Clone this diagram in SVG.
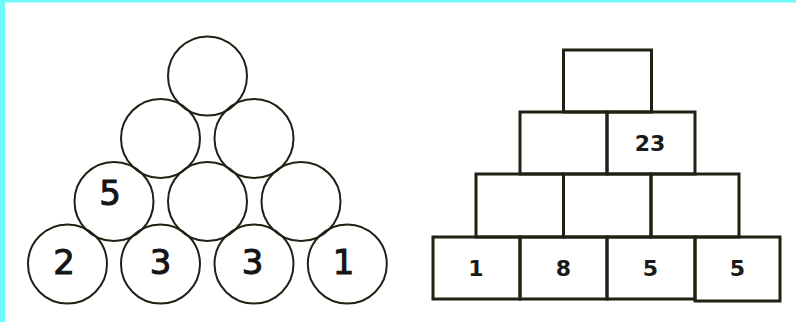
<svg xmlns="http://www.w3.org/2000/svg" width="796" height="322" viewBox="0 0 796 322">
<style>
.c{fill:none;stroke:#1e2212;stroke-width:2}
.b{fill:none;stroke:#1e2212;stroke-width:3}
.ct{font-family:"DejaVu Sans",sans-serif;font-size:34px;fill:#141414;stroke:#141414;stroke-width:1;text-anchor:middle}
.bt{font-family:"DejaVu Sans",sans-serif;font-weight:bold;font-size:22px;fill:#1a1a1a;text-anchor:middle}
</style>
<rect x="0" y="0" width="796" height="322" fill="#ffffff"/>
<rect x="0" y="0" width="796" height="2.5" fill="#6ef9f9"/>
<rect x="0" y="0" width="5" height="322" fill="#6ef9f9"/>
<g id="circles">
<g id="c1"><circle class="c" cx="207.5" cy="76" r="39.5"/></g>
<g id="c2"><circle class="c" cx="160.5" cy="138.5" r="39.5"/></g>
<g id="c3"><circle class="c" cx="254" cy="138.5" r="39.5"/></g>
<g id="c4"><circle class="c" cx="114" cy="201.5" r="39.5"/><text class="ct" x="110" y="205">5</text></g>
<g id="c5"><circle class="c" cx="207.5" cy="201.5" r="39.5"/></g>
<g id="c6"><circle class="c" cx="301" cy="201.5" r="39.5"/></g>
<g id="c7"><circle class="c" cx="67.5" cy="264" r="39.5"/><text class="ct" x="64" y="274">2</text></g>
<g id="c8"><circle class="c" cx="160.5" cy="264" r="39.5"/><text class="ct" x="160.5" y="274">3</text></g>
<g id="c9"><circle class="c" cx="254" cy="264" r="39.5"/><text class="ct" x="252.5" y="274">3</text></g>
<g id="c10"><circle class="c" cx="347.3" cy="264" r="39.5"/><text class="ct" x="343.5" y="274">1</text></g>
</g>
<g id="boxes">
<g id="b1"><rect class="b" x="563.5" y="50" width="88" height="62"/></g>
<g id="b2"><rect class="b" x="520" y="112" width="87" height="62"/></g>
<g id="b3"><rect class="b" x="607" y="112" width="88" height="62"/><text class="bt" x="650" y="151">23</text></g>
<g id="b4"><rect class="b" x="476" y="174" width="87.5" height="63"/></g>
<g id="b5"><rect class="b" x="563.5" y="174" width="87.5" height="63"/></g>
<g id="b6"><rect class="b" x="651" y="174" width="88" height="63"/></g>
<g id="b7"><rect class="b" x="433" y="237" width="87" height="62"/><text class="bt" x="476" y="276">1</text></g>
<g id="b8"><rect class="b" x="520" y="237" width="87" height="62"/><text class="bt" x="563.5" y="276">8</text></g>
<g id="b9"><rect class="b" x="607" y="237" width="88" height="62"/><text class="bt" x="650.5" y="276">5</text></g>
<g id="b10"><rect class="b" x="695" y="237" width="85" height="64"/><text class="bt" x="737.5" y="276">5</text></g>
</g>
<g id="connectors"/>
</svg>
